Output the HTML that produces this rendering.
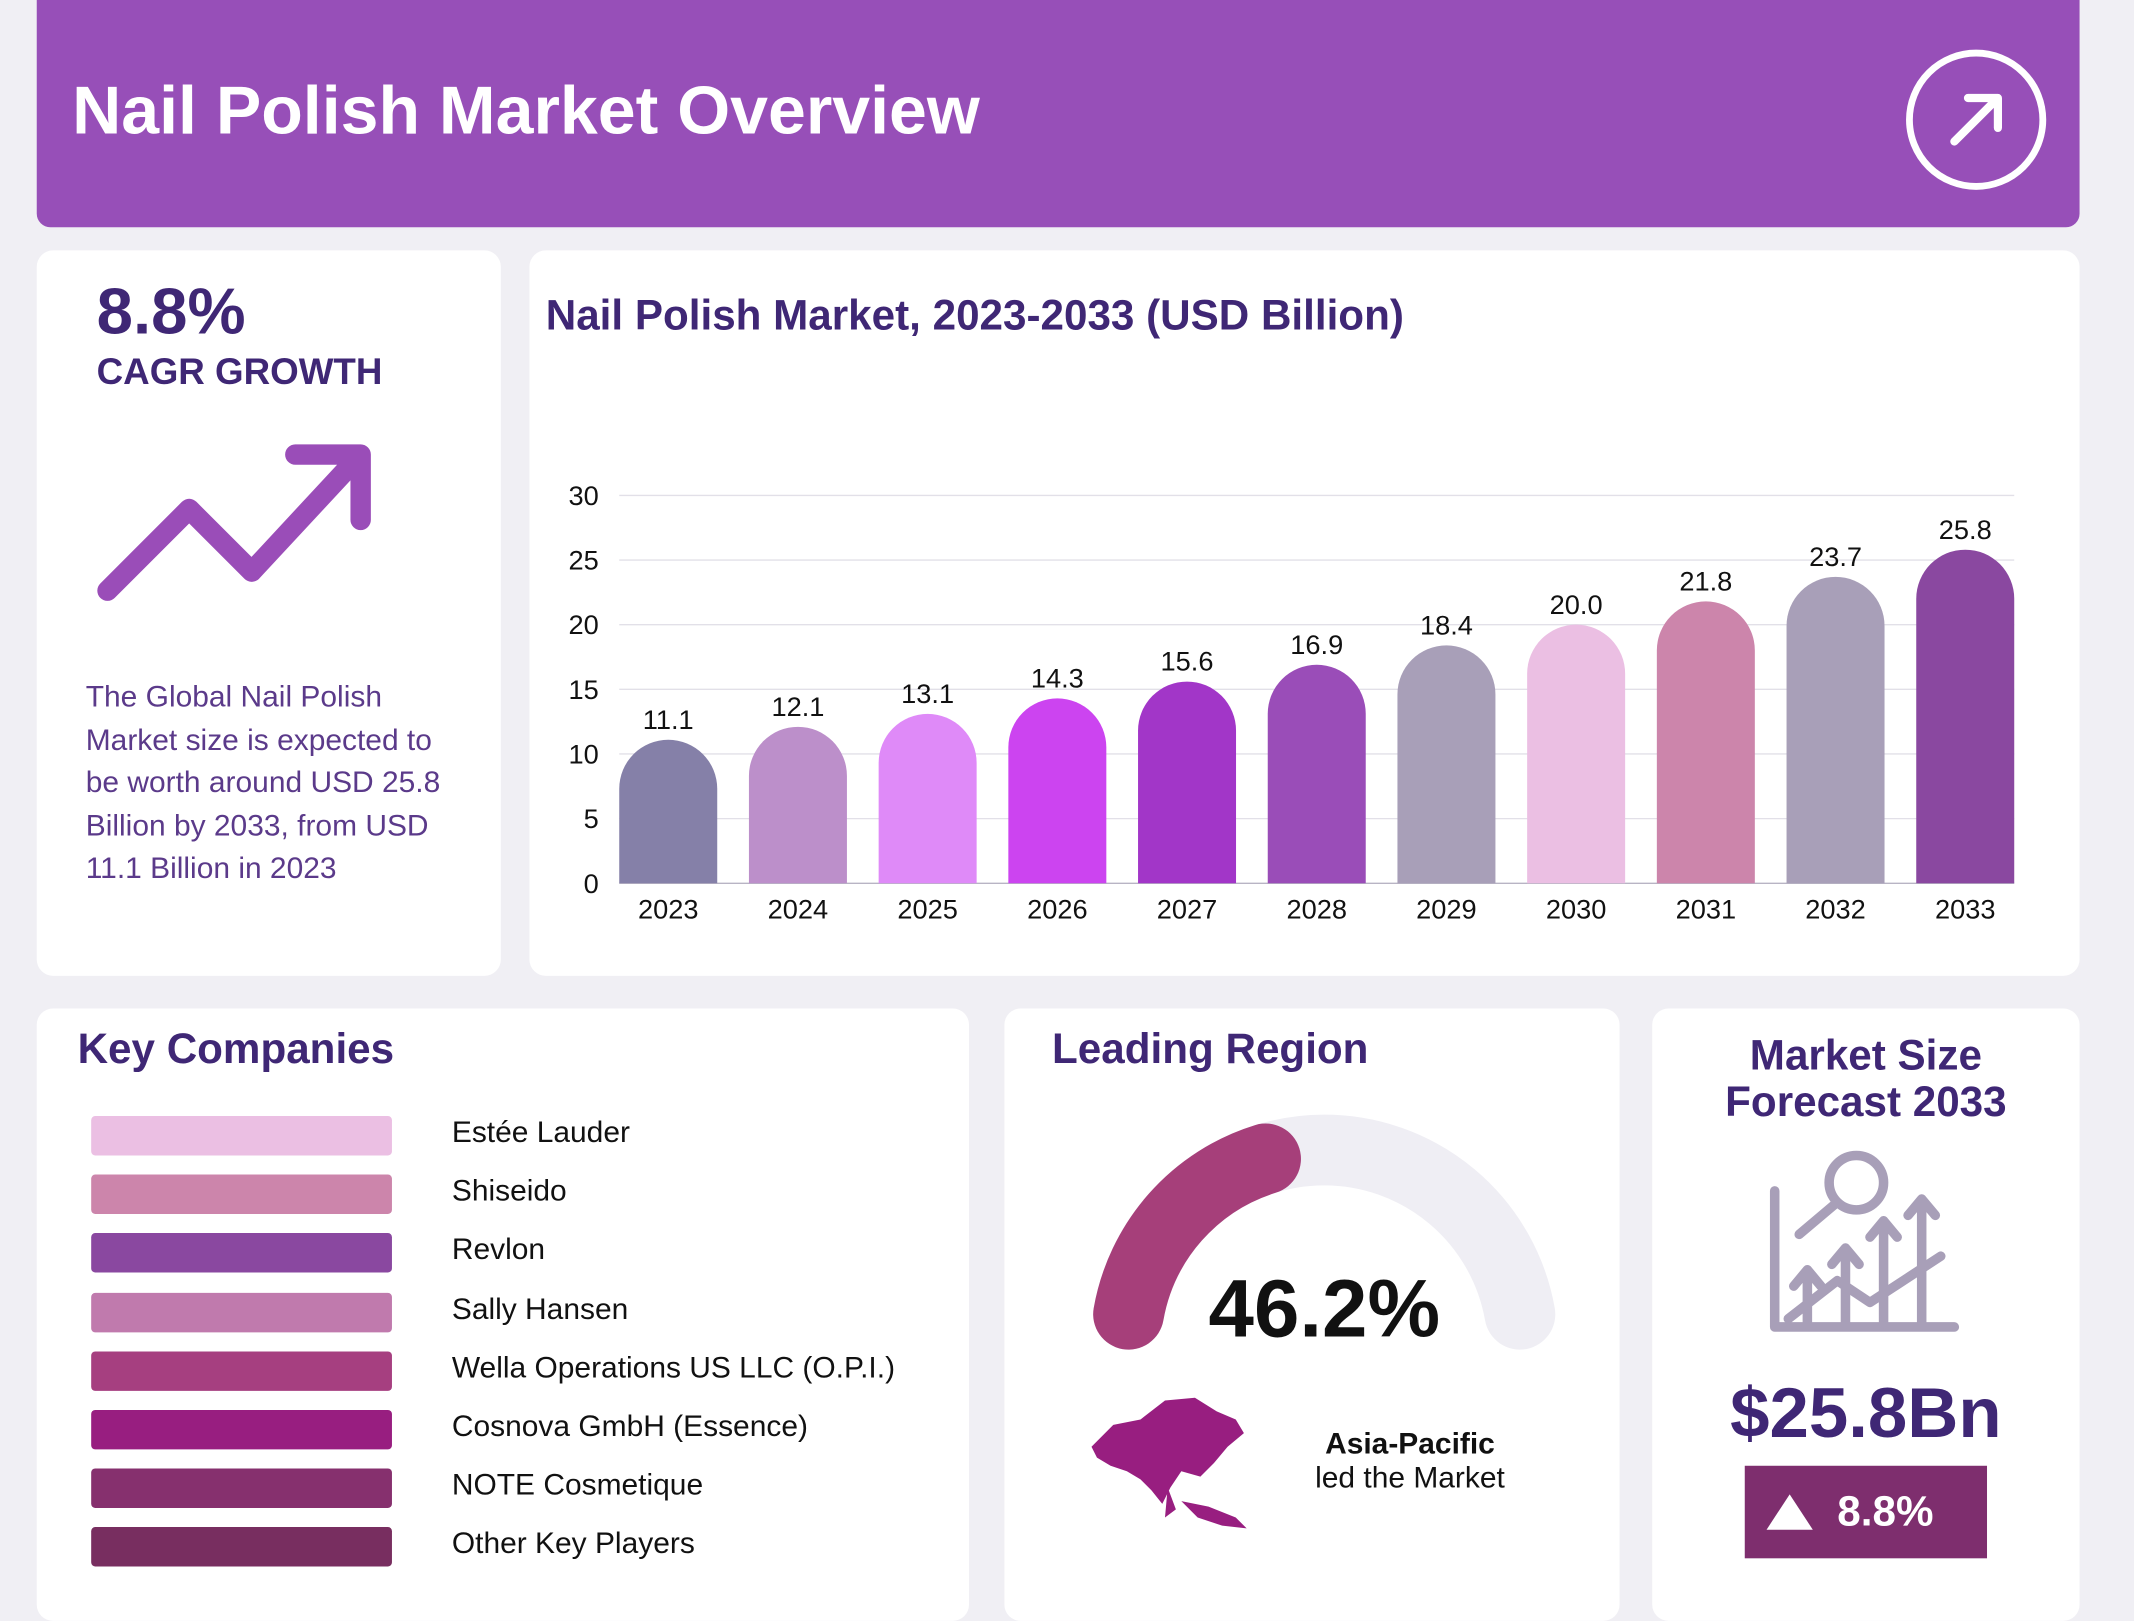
<!DOCTYPE html>
<html><head><meta charset="utf-8">
<style>
html,body{margin:0;padding:0;}
body{width:2134px;height:1600px;overflow:hidden;background:#f0eff4;font-family:"Liberation Sans",sans-serif;}
#root{position:absolute;left:0;top:0;width:1568px;height:1176px;transform:scale(1.36097);transform-origin:0 0;}
.card{position:absolute;background:#fff;border-radius:12px;}
.abs{position:absolute;white-space:nowrap;}
.h{color:#3f2775;font-weight:bold;}
</style></head><body>
<div id="root">
  <div class="abs" style="left:27px;top:0;width:1501px;height:167px;background:#974fb8;border-radius:0 0 10px 10px;">
    <div class="abs" style="left:26px;top:52px;color:#fff;font-size:50px;font-weight:bold;">Nail Polish Market Overview</div>
    <svg class="abs" style="left:1373px;top:36px" width="104" height="104"><circle cx="52" cy="52" r="49" fill="none" stroke="#fff" stroke-width="5"/><path d="M36 68 L68 36 M46 36 H68 V58" fill="none" stroke="#fff" stroke-width="6" stroke-linecap="round" stroke-linejoin="round"/></svg>
  </div>

  <div class="card" style="left:27px;top:184px;width:341px;height:533px;">
    <div class="abs h" style="left:44px;top:18px;font-size:48px;">8.8%</div>
    <div class="abs h" style="left:44px;top:74px;font-size:27px;">CAGR GROWTH</div>
    <svg class="abs" style="left:40px;top:140px" width="210" height="120"><path d="M12 110 L72 50 L118 96 L196 12 M150 10 H198 V58" fill="none" stroke="#9a4db8" stroke-width="15" stroke-linecap="round" stroke-linejoin="round"/></svg>
    <div class="abs" style="left:36px;top:312px;font-size:22px;line-height:31.5px;color:#5b3a8a;">The Global Nail Polish<br>Market size is expected to<br>be worth around USD 25.8<br>Billion by 2033, from USD<br>11.1 Billion in 2023</div>
  </div>

  <div class="card" style="left:389px;top:184px;width:1139px;height:533px;">
    <div class="abs h" style="left:12px;top:30px;font-size:31px;">Nail Polish Market, 2023-2033 (USD Billion)</div>
  </div>
  <svg id="chart" class="abs" style="left:0;top:0" width="1568" height="720"></svg>

  <div class="card" style="left:27px;top:741px;width:685px;height:450px;">
    <div class="abs h" style="left:30px;top:12px;font-size:31px;">Key Companies</div>
    <div id="companies"></div>
  </div>

  <div class="card" style="left:738px;top:741px;width:452px;height:450px;">
    <div class="abs h" style="left:35px;top:12px;font-size:31px;">Leading Region</div>
    <svg class="abs" style="left:0;top:0" width="452" height="300">
      <path id="gaugeBg" fill="none" stroke="#efeef4" stroke-width="52" stroke-linecap="round"/>
      <path id="gaugeArc" fill="none" stroke="#a63f7a" stroke-width="52" stroke-linecap="round"/>
    </svg>
    <div class="abs" style="left:150px;top:186px;font-size:60px;font-weight:bold;color:#111;">46.2%</div>
    <svg class="abs" style="left:60px;top:282px" width="122" height="102"><path d="M4 40 L20 24 L40 20 L58 6 L80 4 L96 14 L110 20 L116 30 L104 40 L94 52 L84 62 L70 58 L62 70 L56 82 L48 72 L40 64 L30 58 L18 54 L8 48 Z M70 80 L90 84 L110 92 L118 100 L100 98 L82 92 Z M60 70 L66 86 L58 92 Z" fill="#981e80"/></svg>
    <div class="abs" style="left:298px;top:307px;transform:translateX(-50%);font-size:22px;font-weight:bold;color:#111;">Asia-Pacific</div>
    <div class="abs" style="left:298px;top:332px;transform:translateX(-50%);font-size:22px;color:#111;">led the Market</div>
  </div>

  <div class="card" style="left:1214px;top:741px;width:314px;height:450px;">
    <div class="abs h" style="left:0;width:314px;top:18px;text-align:center;font-size:31px;line-height:34px;white-space:normal;">Market Size<br>Forecast 2033</div>
    <svg class="abs" style="left:86px;top:104px" width="144" height="136" fill="none" stroke="#a89fb8" stroke-width="7" stroke-linecap="round" stroke-linejoin="round">
      <path d="M4 30 V130 H136"/><circle cx="64" cy="24" r="20"/><path d="M48 40 L22 62"/>
      <path d="M28 128 V92 M18 100 L28 88 L38 100 M56 128 V76 M46 84 L56 72 L66 84 M84 128 V56 M74 64 L84 52 L94 64 M112 128 V40 M102 48 L112 36 L122 48"/>
      <path d="M14 124 L50 96 L74 112 L126 78"/>
    </svg>
    <div class="abs h" style="left:0;width:314px;top:268px;text-align:center;font-size:52px;">$25.8Bn</div>
    <div class="abs" style="left:68px;top:336px;width:178px;height:68px;background:#7e2e6e;">
      <svg class="abs" style="left:14px;top:19px" width="38" height="30"><path d="M19 2 L36 28 H2 Z" fill="#fff"/></svg>
      <div class="abs" style="left:68px;top:16px;font-size:31px;font-weight:bold;color:#fff;">8.8%</div>
    </div>
  </div>
</div>
<script>
const years=["2023","2024","2025","2026","2027","2028","2029","2030","2031","2032","2033"];
const values=[11.1,12.1,13.1,14.3,15.6,16.9,18.4,20.0,21.8,23.7,25.8];
const barColors=["#8580a8","#bc8fca","#df8af8","#cc44f0","#a236c8","#9a4db8","#a89fb8","#ebbfe3","#cc85ab","#a89fb8","#8a48a0"];
const yTicks=[0,5,10,15,20,25,30];
const companies=["Estée Lauder","Shiseido","Revlon","Sally Hansen","Wella Operations US LLC (O.P.I.)","Cosnova GmbH (Essence)","NOTE Cosmetique","Other Key Players"];
const companyColors=["#ebbfe3","#cc85ab","#8a48a0","#c07aad","#a63f80","#981e80","#86306e","#782e60"];
const regionShare=46.2;

const NS="http://www.w3.org/2000/svg";
const svg=document.getElementById('chart');
const x0=455,x1=1480,yBase=649,yTop=364,yMax=30;
const y=v=>yBase-(v/yMax)*(yBase-yTop);
const bw=72;
const step=(x1-x0-bw)/(years.length-1);
const xc=i=>x0+bw/2+step*i;
function mk(tag,attrs){const e=document.createElementNS(NS,tag);for(const k in attrs)e.setAttribute(k,attrs[k]);svg.appendChild(e);return e;}
yTicks.forEach(t=>{
  const l=mk('line',{x1:x0,x2:x1,y1:y(t),y2:y(t),stroke:t===0?'#b8b4c4':'#e2e0e8','stroke-width':1});
  
  
  const tx=mk('text',{x:440,y:y(t)+7,'text-anchor':'end','font-size':20,fill:'#111','font-family':'Liberation Sans, sans-serif'});
  tx.textContent=t;
  
  
});
years.forEach((yr,i)=>{
  const cx=xc(i),top=y(values[i]),r=bw/2,h=yBase-top;
  const rr=Math.min(r,h);
  const d=`M${cx-r} ${yBase} V${top+rr} A${r} ${rr} 0 0 1 ${cx+r} ${top+rr} V${yBase} Z`;
  const p=mk('path',{d:d,fill:barColors[i]});
  
  
  const v=mk('text',{x:cx,y:top-8,'text-anchor':'middle','font-size':20,fill:'#111','font-family':'Liberation Sans, sans-serif'});
  v.textContent=values[i].toFixed(1);
  
  
  const xl=mk('text',{x:cx,y:675,'text-anchor':'middle','font-size':20,fill:'#111','font-family':'Liberation Sans, sans-serif'});
  xl.textContent=yr;
  
  
});
const cw=document.getElementById('companies');
companies.forEach((c,i)=>{
  const top=79+i*43.2;
  const s=document.createElement('div');
  s.className='abs';s.style.cssText=`left:40px;top:${top}px;width:221px;height:29px;background:${companyColors[i]};border-radius:3px;`;
  
  
  cw.appendChild(s);
  const t=document.createElement('div');
  t.className='abs';t.style.cssText=`left:305px;top:${top-1}px;font-size:22px;color:#111;`;
  t.textContent=c;
  
  
  cw.appendChild(t);
});
(function(){
  const cx=235,cy=250,r=146;
  const a0=170,a1=10,span=136;
  const pt=a=>{const t=a*Math.PI/180;return [cx+r*Math.cos(t),cy-r*Math.sin(t)];};
  const s=pt(a0),e=pt(a1),m=pt(a0-span*regionShare/100);
  document.getElementById('gaugeBg').setAttribute('d',`M${s[0]} ${s[1]} A${r} ${r} 0 0 1 ${e[0]} ${e[1]}`);
  document.getElementById('gaugeArc').setAttribute('d',`M${s[0]} ${s[1]} A${r} ${r} 0 0 1 ${m[0]} ${m[1]}`);
})();
</script>
</body></html>
